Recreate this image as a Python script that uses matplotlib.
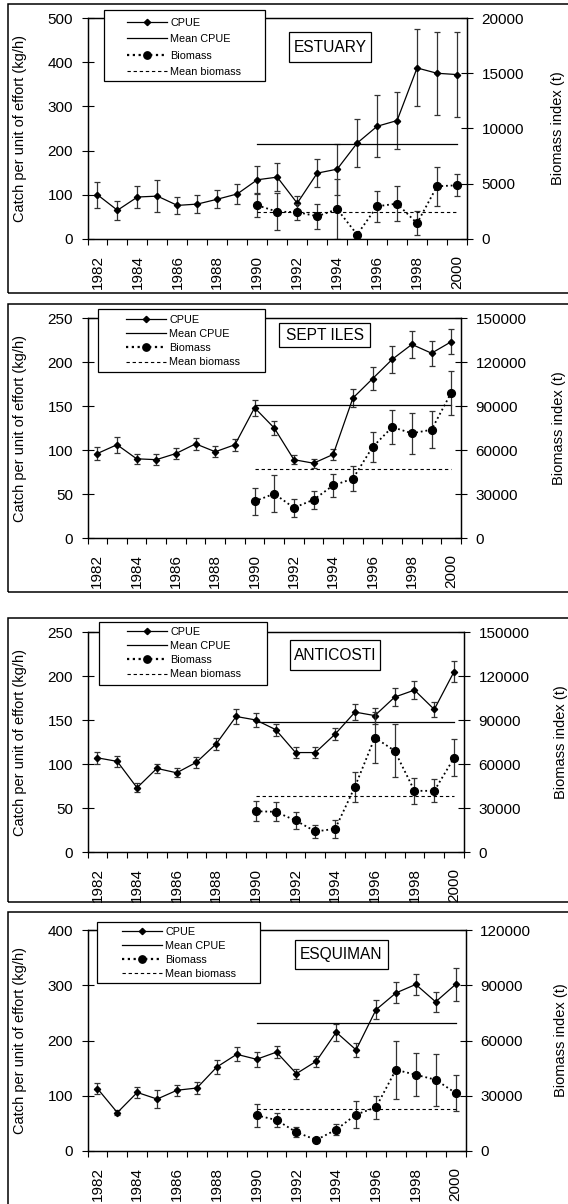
import numpy as np
import matplotlib
matplotlib.use('Agg')
import matplotlib.pyplot as plt
from matplotlib.lines import Line2D
from matplotlib.patches import Rectangle
from matplotlib.ticker import FuncFormatter

plt.rcParams['font.family'] = ['Liberation Sans', 'DejaVu Sans']

years = list(range(1982, 2001))
bio_years = list(range(1990, 2001))

# values: CPUE in kg/h, biomass index in t
estuary_cpue = [100, 65, 95, 97, 76, 79, 90, 102, 134, 140, 81, 149, 158, 217, 255, 268, 387, 375, 372]
estuary_cpue_err = [30, 22, 25, 37, 20, 20, 20, 22, 32, 31, 16, 32, 58, 55, 70, 64, 87, 94, 97]
estuary_bio = [3050, 2470, 2440, 2050, 2700, 400, 2960, 3200, 1420, 4770, 4860]
estuary_bio_err = [1100, 1650, 750, 1150, 2700, 100, 1400, 1600, 1070, 1750, 980]
estuary_mean_cpue = 216
estuary_mean_bio = 2480

septiles_cpue = [96, 106, 90, 89, 96, 107, 98, 106, 148, 125, 89, 85, 95, 159, 181, 203, 220, 210, 223]
septiles_cpue_err = [7, 9, 6, 6, 6, 7, 6, 7, 9, 8, 5, 5, 6, 10, 13, 15, 15, 14, 14]
septiles_bio = [25000, 30200, 20600, 26100, 35900, 40400, 62000, 75600, 71400, 73800, 99000]
septiles_bio_err = [9000, 12600, 6000, 6000, 7800, 8400, 10200, 11400, 13800, 12600, 15000]
septiles_mean_cpue = 151
septiles_mean_bio = 47200

anticosti_cpue = [107, 103, 73, 95, 90, 102, 123, 154, 150, 139, 113, 113, 134, 159, 155, 176, 184, 162, 205]
anticosti_cpue_err = [7, 6.5, 5, 5, 5, 6, 7, 8, 8, 7, 6, 6, 7, 9, 9, 10, 10, 8.5, 12]
anticosti_bio = [27800, 27400, 21500, 14000, 15800, 44600, 78000, 69000, 41700, 41700, 64200]
anticosti_bio_err = [6900, 6600, 6000, 4500, 6000, 10200, 17400, 18000, 8700, 7800, 12600]
anticosti_mean_cpue = 148
anticosti_mean_bio = 38000

esquiman_cpue = [113, 69.5, 106, 94, 110, 114, 152, 175, 166, 179, 140, 162.5, 215, 183, 255.6, 286, 301.5, 270, 301.5]
esquiman_cpue_err = [10.5, 4.5, 9.5, 16.5, 10, 11, 13, 13, 13.5, 11, 9, 10, 15, 12, 17, 19, 18.5, 18.5, 30]
esquiman_bio = [19400, 16800, 10200, 6000, 11600, 19800, 23700, 44100, 41400, 38700, 31500]
esquiman_bio_err = [6300, 3900, 2700, 900, 3000, 7200, 6300, 15900, 11700, 14000, 9900]
esquiman_mean_cpue = 232
esquiman_mean_bio = 23000

W, H = 568, 1204

# pixel layout of each panel: outer frame, plot area, legend box, first legend row, name box
layouts = [
    dict(frame=(8, 4, 590, 293), axes=(87.5, 18, 467, 239), legend=(104, 10, 265, 81),
         handle_x=127, row1=20, spacing=0.58, name=(289, 32, 371, 62), rlab=558),
    dict(frame=(8, 304, 590, 592), axes=(87.5, 318, 461, 538), legend=(98, 309, 265, 372),
         handle_x=126, row1=317, spacing=0.38, name=(279, 323, 370, 347), rlab=559),
    dict(frame=(8, 618, 590, 902), axes=(87.5, 632, 464, 852), legend=(99, 622, 267, 685),
         handle_x=127, row1=629, spacing=0.38, name=(290, 640, 380, 670), rlab=561),
    dict(frame=(8, 912, 590, 1230), axes=(87.5, 930, 465.5, 1151), legend=(97, 922, 260, 983),
         handle_x=122, row1=929, spacing=0.36, name=(295, 940, 388, 969), rlab=561),
]


def fbox(x0, y0, x1, y1):
    return [x0 / W, 1 - y1 / H, (x1 - x0) / W, (y1 - y0) / H]


def add_rect(fig, box, lw=0.9, fill=False, z=3):
    l, b, w, h = fbox(*box)
    fig.patches.append(Rectangle((l, b), w, h, transform=fig.transFigure, fill=fill,
                                 facecolor='white', edgecolor='black', lw=lw, zorder=z))


def draw_panel(fig, lay, name, cpue, cpue_err, mean_cpue, bio, bio_err, mean_bio,
               cpue_max, cpue_step, bio_max, bio_step):
    add_rect(fig, lay['frame'], lw=1.1, z=1)
    ax = fig.add_axes(fbox(*lay['axes']))
    x = np.arange(len(years))
    xb = x[years.index(bio_years[0]):]

    ax.errorbar(x, cpue, yerr=cpue_err, fmt='-D', color='black', lw=0.9, ms=3.2,
                ecolor='#333333', elinewidth=0.9, capsize=2.5, capthick=0.9)
    ax.plot([xb[0], xb[-1]], [mean_cpue, mean_cpue], color='black', lw=0.9)
    ax.set_xlim(-0.5, len(years) - 0.5)
    ax.set_ylim(0, cpue_max)
    ax.set_yticks(np.arange(0, cpue_max + 1, cpue_step))

    ax.set_xticks(np.arange(-0.5, len(years), 1))
    ax.set_xticks(x[::2], [str(y) for y in years[::2]], minor=True, rotation=90)
    ax.tick_params(axis='x', which='major', direction='out', length=4.5, width=0.8, labelbottom=False)
    ax.tick_params(axis='x', which='minor', length=0, labelsize=11, pad=11.5)
    ax.tick_params(axis='y', direction='inout', length=8, width=0.8, labelsize=11, pad=6.5)

    ax2 = ax.twinx()
    ax2.errorbar(xb, bio, yerr=bio_err, fmt='o', color='black', ms=5.6,
                 ecolor='#333333', elinewidth=0.9, capsize=2.5, capthick=0.9)
    ax2.plot(xb, bio, color='black', lw=1.3, ls=(0, (1, 1.6)))
    ax2.plot([xb[0], xb[-1]], [mean_bio, mean_bio], color='black', lw=0.8, ls=(0, (3, 2.5)))
    ax2.set_ylim(0, bio_max)
    ax2.set_yticks(np.arange(0, bio_max + 1, bio_step))
    ax2.yaxis.set_major_formatter(FuncFormatter(lambda v, p: '%d' % v))
    ax2.tick_params(axis='y', direction='inout', length=8, width=0.8, labelsize=11, pad=6.5)

    for a in (ax, ax2):
        for s in a.spines.values():
            s.set_linewidth(0.9)

    x0, y0, x1, y1 = lay['axes']
    yc = 1 - (y0 + y1) / 2 / H
    fig.text(20 / W, yc, 'Catch per unit of effort (kg/h)', rotation=90, ha='center', va='center', fontsize=10.5)
    fig.text(lay['rlab'] / W, yc, 'Biomass index (t)', rotation=90, ha='center', va='center', fontsize=10.5)

    # legend
    add_rect(fig, lay['legend'], lw=0.9, fill=True, z=3)
    handles = [
        Line2D([], [], color='black', lw=0.9, marker='D', ms=3.2),
        Line2D([], [], color='black', lw=0.9),
        Line2D([], [], color='black', lw=1.6, ls=(0, (1, 1.6)), marker='o', ms=5.3),
        Line2D([], [], color='black', lw=0.8, ls=(0, (3, 2.5))),
    ]
    labels = ['CPUE', 'Mean CPUE', 'Biomass', 'Mean biomass']
    leg = fig.legend(handles, labels, loc='upper left',
                     bbox_to_anchor=(lay['handle_x'] / W, 1 - (lay['row1'] - 2) / H),
                     frameon=False, fontsize=7.8, borderpad=0, borderaxespad=0,
                     handlelength=3.7, handletextpad=0.3, labelspacing=lay['spacing'])
    leg.set_zorder(5)

    # name box
    add_rect(fig, lay['name'], lw=0.9, fill=True, z=3)
    nx0, ny0, nx1, ny1 = lay['name']
    fig.text((nx0 + nx1) / 2 / W, 1 - (ny0 + ny1) / 2 / H, name, ha='center', va='center',
             fontsize=11.2, zorder=6)


fig = plt.figure(figsize=(W / 100, H / 100), dpi=100)

draw_panel(fig, layouts[0], 'ESTUARY', estuary_cpue, estuary_cpue_err, estuary_mean_cpue,
           estuary_bio, estuary_bio_err, estuary_mean_bio, 500, 100, 20000, 5000)
draw_panel(fig, layouts[1], 'SEPT ILES', septiles_cpue, septiles_cpue_err, septiles_mean_cpue,
           septiles_bio, septiles_bio_err, septiles_mean_bio, 250, 50, 150000, 30000)
draw_panel(fig, layouts[2], 'ANTICOSTI', anticosti_cpue, anticosti_cpue_err, anticosti_mean_cpue,
           anticosti_bio, anticosti_bio_err, anticosti_mean_bio, 250, 50, 150000, 30000)
draw_panel(fig, layouts[3], 'ESQUIMAN', esquiman_cpue, esquiman_cpue_err, esquiman_mean_cpue,
           esquiman_bio, esquiman_bio_err, esquiman_mean_bio, 400, 100, 120000, 30000)

fig.savefig('out.png', dpi=100)
